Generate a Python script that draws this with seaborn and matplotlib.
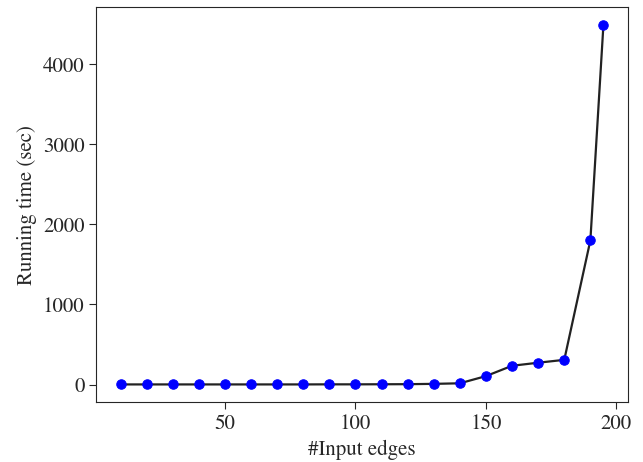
import matplotlib
matplotlib.use("Agg")
import pandas as pd
import seaborn as sns
import matplotlib.pyplot as plt

# values
edges = [10, 20, 30, 40, 50, 60, 70, 80, 90, 100, 110, 120, 130, 140,
         150, 160, 170, 180, 190, 195]
seconds = [1, 1, 1, 1, 1, 1, 1, 1, 2, 2, 3, 4, 8, 15,
           105, 234, 272, 308, 1800, 4490]

df = pd.DataFrame({"edges": edges, "seconds": seconds})

sns.set_style("ticks")
plt.rcParams["font.family"] = ["STIXGeneral", "DejaVu Serif"]
plt.rcParams["mathtext.fontset"] = "stix"

fig, ax = plt.subplots(figsize=(6.43, 4.62), dpi=100)
sns.lineplot(data=df, x="edges", y="seconds", ax=ax, color="#222222",
             linewidth=1.6, marker="o", markersize=6.8,
             markerfacecolor="blue", markeredgecolor="blue")

ax.set_xlabel("#Input edges", fontsize=15)
ax.set_ylabel("Running time (sec)", fontsize=15)
ax.set_xticks([50, 100, 150, 200])
ax.set_yticks([0, 1000, 2000, 3000, 4000])
ax.tick_params(labelsize=15, length=5)
ax.set_xlim(0.75, 204.25)
ax.set_ylim(-223.5, 4714.5)

plt.subplots_adjust(left=0.15, right=0.976, top=0.985, bottom=0.129)
plt.savefig("out.png")
